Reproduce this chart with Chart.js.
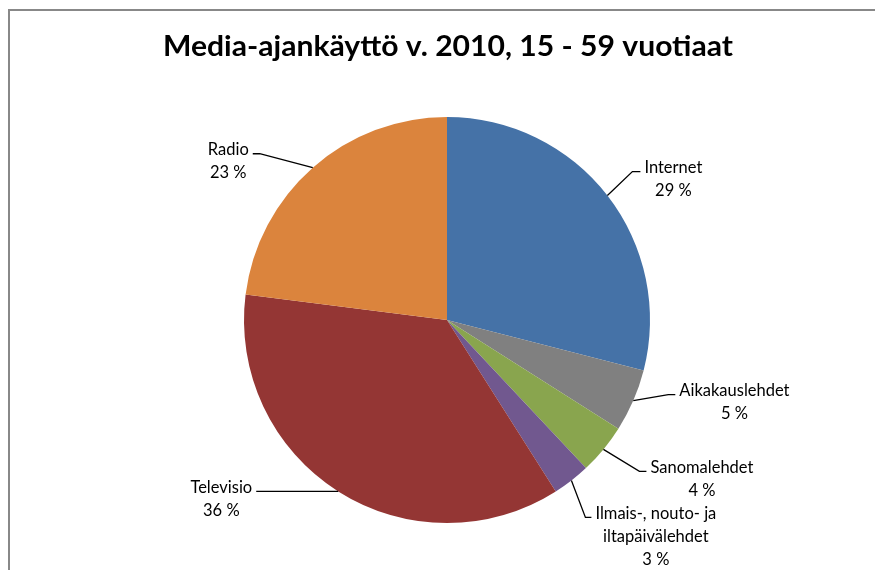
<!DOCTYPE html>
<html>
<head>
<meta charset="utf-8">
<script src="https://cdn.jsdelivr.net/npm/chart.js@4/dist/chart.umd.min.js"></script>
<style>
  html, body { margin: 0; padding: 0; background: #fff; }
  #wrap { width: 875px; height: 570px; position: relative; }
</style>
</head>
<body>
<div id="wrap"><canvas id="mediaPie" width="875" height="570"></canvas></div>
<script>
const chartTitle = 'Media-ajankäyttö v. 2010, 15 - 59 vuotiaat';
const mediaLabels = ['Internet', 'Aikakauslehdet', 'Sanomalehdet', 'Ilmais-, nouto- ja iltapäivälehdet', 'Televisio', 'Radio'];
const mediaShares = [29, 5, 4, 3, 36, 23];
const mediaColors = ['#4572A7', '#808080', '#89A54E', '#71588F', '#943634', '#DB843D'];

// label text lines and placement (offsets from slice anchor on the rim)
const labelLines = [
    ['Internet'],
    ['Aikakauslehdet'],
    ['Sanomalehdet'],
    ['Ilmais-, nouto- ja', 'iltapäivälehdet'],
    ['Televisio'],
    ['Radio']
];
// elbow offset (dx, dy) from anchor, horizontal run length, side
const leaderLayout = [
    { ex: 25, ey: -24, run: 8, side: 'right' },
    { ex: 35, ey: -6, run: 7, side: 'right' },
    { ex: 36, ey: 22, run: 7, side: 'right' },
    { ex: 14, ey: 37, run: 6, side: 'right' },
    { ex: 0, ey: 0, run: 82, side: 'left' },
    { ex: -53, ey: -14, run: 7, side: 'left' }
];

const FONT = 'Lato, "Open Sans", sans-serif';

const decorPlugin = {
    id: 'decor',
    beforeDraw(chart) {
        const ctx = chart.ctx;
        ctx.save();
        ctx.fillStyle = '#fff';
        ctx.fillRect(0, 0, chart.width, chart.height);
        ctx.strokeStyle = '#888888';
        ctx.lineWidth = 2;
        ctx.strokeRect(9, 10, chart.width + 20, chart.height + 20);
        ctx.restore();
    },
    afterDraw(chart) {
        const ctx = chart.ctx;
        ctx.save();
        // title
        ctx.fillStyle = '#000';
        ctx.font = 'bold 29px ' + FONT;
        ctx.textAlign = 'center';
        ctx.textBaseline = 'middle';
        const tw = ctx.measureText(chartTitle).width;
        const target = 570;
        ctx.save();
        ctx.translate(448, 47);
        ctx.scale(target / tw, 1);
        ctx.fillText(chartTitle, 0, 0);
        ctx.restore();

        // labels with leader lines
        const meta = chart.getDatasetMeta(0);
        ctx.font = '16.5px ' + FONT;
        ctx.lineWidth = 1.3;
        ctx.strokeStyle = '#000';
        meta.data.forEach((arc, i) => {
            const p = arc.getProps(['x', 'y', 'startAngle', 'endAngle', 'outerRadius'], true);
            const mid = (p.startAngle + p.endAngle) / 2;
            const ax = p.x + Math.cos(mid) * p.outerRadius;
            const ay = p.y + Math.sin(mid) * p.outerRadius;
            const L = leaderLayout[i];
            const exx = ax + L.ex, eyy = ay + L.ey;
            const dir = L.side === 'right' ? 1 : -1;
            const hx = exx + dir * L.run;
            ctx.beginPath();
            ctx.moveTo(ax, ay);
            ctx.lineTo(exx, eyy);
            ctx.lineTo(hx, eyy);
            ctx.stroke();

            const lines = labelLines[i].concat([mediaShares[i] + ' %']);
            const widest = Math.max(...lines.map(t => ctx.measureText(t).width));
            const cx = hx + dir * (widest / 2 + 4);
            const lh = 23;
            const y0 = eyy - 4;
            ctx.textAlign = 'center';
            ctx.textBaseline = 'middle';
            lines.forEach((t, k) => ctx.fillText(t, cx, y0 + k * lh));
        });
        ctx.restore();
    }
};

new Chart(document.getElementById('mediaPie').getContext('2d'), {
    type: 'pie',
    data: {
        labels: mediaLabels,
        datasets: [{
            data: mediaShares,
            backgroundColor: mediaColors,
            borderWidth: 0
        }]
    },
    options: {
        responsive: false,
        animation: false,
        layout: { padding: { top: 117, bottom: 47, left: 19, right: 0 } },
        plugins: {
            legend: { display: false },
            tooltip: { enabled: false },
            title: { display: false }
        }
    },
    plugins: [decorPlugin]
});
</script>
</body>
</html>
